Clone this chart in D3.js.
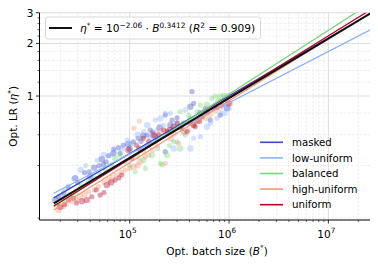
<!DOCTYPE html>
<html>
<head>
<meta charset="utf-8">
<script src="https://cdn.jsdelivr.net/npm/d3@7"></script>
<style>
  body { margin: 0; background: #fff; }
  text { font-family: "DejaVu Sans", sans-serif; }
</style>
</head>
<body>
<script>
// size of the page and plot area
var W = 378, H = 266;
var L = 39.5, R = 370, T = 12.7, B = 220;

// series names and colours (coolwarm-ish + green)
var seriesNames = ["masked", "low-uniform", "balanced", "high-uniform", "uniform"];
var seriesColors = ["#3b4cc0", "#8db0fe", "#7ad47a", "#f4987a", "#b40426"];

// fitted power laws per series, log10(eta) = a + b*log10(B)
var fitIntercepts = [-1.985, -1.800, -2.183, -2.154, -2.123];
var fitSlopes = [0.331, 0.2935, 0.3656, 0.3544, 0.3525];
var globalFit = [-2.06, 0.3412];
var fitRange = [1.72e4, 4e7];

// scatter points (batch size, lr)
var maskedB = [1.78e4, 1.92e4, 2.16e4, 2.83e4, 3.51e4, 3.91e4, 4.39e4, 4.92e4, 5.44e4, 5.23e4, 6.11e4, 6.90e4, 6.85e4, 7.69e4, 8.64e4, 9.70e4, 1.09e5, 1.22e5, 1.37e5, 1.50e5, 1.61e5, 1.81e5, 2.28e5, 2.28e5, 2.57e5, 2.67e5, 3.23e5, 4.08e5, 4.24e5, 4.40e5, 5.14e5, 6.47e5, 8.16e5, 9.52e5,
	2.4e4, 3.0e4, 4.0e4, 5.8e4, 8.0e4, 1.0e5, 1.3e5, 1.7e5, 2.0e5, 3.0e5, 3.5e5, 5.8e5, 7.2e5];
var maskedLR = [0.254, 0.265, 0.277, 0.338, 0.364, 0.368, 0.389, 0.399, 0.406, 0.434, 0.455, 0.497, 0.470, 0.506, 0.524, 0.531, 0.547, 0.573, 0.593, 0.598, 0.639, 0.585, 0.778, 0.480, 0.682, 0.729, 0.667, 0.869, 1.06, 0.908, 0.796, 0.729, 0.778, 0.851,
	0.30, 0.32, 0.345, 0.42, 0.47, 0.50, 0.55, 0.62, 0.66, 0.75, 0.70, 0.84, 0.88];

var lowB = [2.01e4, 2.42e4, 2.74e4, 3.20e4, 4.70e4, 6.40e4, 8.39e4, 1.06e5, 1.38e5, 1.50e5, 1.81e5, 1.88e5, 2.04e5, 2.28e5, 2.57e5, 2.77e5, 3.63e5, 3.63e5, 4.08e5, 4.40e5, 5.14e5, 6.00e5, 7.55e5, 8.16e5, 9.89e5,
	2.2e4, 3.6e4, 5.5e4, 7.0e4, 9.5e4, 1.2e5, 1.6e5, 2.2e5, 3.0e5, 4.8e5, 6.5e5, 9.0e5];
var lowLR = [0.264, 0.305, 0.338, 0.377, 0.430, 0.459, 0.501, 0.536, 0.625, 0.682, 0.729, 0.639, 0.745, 0.796, 0.796, 0.501, 0.832, 0.598, 0.501, 0.573, 0.585, 0.667, 0.745, 0.796, 0.851,
	0.285, 0.40, 0.46, 0.48, 0.56, 0.60, 0.58, 0.68, 0.70, 0.72, 0.70, 0.80];

var balB = [1.85e4, 2.16e4, 2.83e4, 3.29e4, 4.52e4, 5.70e4, 7.13e4, 8.01e4, 1.13e5, 1.37e5, 1.38e5, 1.44e5, 1.68e5, 2.04e5, 2.12e5, 2.38e5, 2.77e5, 2.99e5, 3.23e5, 3.23e5, 3.92e5, 4.08e5, 4.75e5, 5.14e5, 6.00e5, 6.73e5, 7.26e5, 8.16e5, 8.81e5, 9.52e5,
	2.5e4, 3.8e4, 5.0e4, 6.5e4, 9.0e4, 1.0e5, 1.2e5, 1.9e5, 2.5e5, 3.5e5, 4.4e5, 5.6e5, 7.8e5, 9.0e5];
var balLR = [0.238, 0.254, 0.277, 0.303, 0.339, 0.377, 0.440, 0.459, 0.368, 0.430, 0.480, 0.385, 0.459, 0.412, 0.403, 0.459, 0.547, 0.547, 0.501, 0.813, 0.778, 0.745, 0.813, 0.888, 0.888, 0.970, 1.0, 0.991, 1.01, 1.01,
	0.27, 0.32, 0.36, 0.40, 0.42, 0.40, 0.45, 0.50, 0.52, 0.62, 0.70, 0.80, 0.93, 0.95];

var highB = [1.92e4, 2.16e4, 2.61e4, 3.17e4, 3.85e4, 4.84e4, 6.11e4, 7.40e4, 8.99e4, 1.09e5, 1.10e5, 1.25e5, 1.27e5, 1.43e5, 1.69e5, 2.04e5, 2.28e5, 2.38e5, 2.77e5, 3.11e5, 3.89e5, 4.90e5, 6.47e5, 8.16e5, 1.03e6,
	2.3e4, 2.9e4, 3.5e4, 4.4e4, 5.5e4, 6.7e4, 8.2e4, 1.0e5, 1.2e5, 1.55e5, 1.9e5, 2.6e5, 3.5e5, 4.4e5, 5.8e5, 7.3e5];
var highLR = [0.222, 0.232, 0.248, 0.265, 0.283, 0.303, 0.330, 0.353, 0.377, 0.394, 0.653, 0.719, 0.421, 0.449, 0.491, 0.625, 0.412, 0.639, 0.611, 0.536, 0.639, 0.729, 0.778, 0.854, 0.908,
	0.24, 0.255, 0.275, 0.29, 0.32, 0.34, 0.365, 0.385, 0.40, 0.46, 0.52, 0.57, 0.62, 0.68, 0.75, 0.82];

var uniB = [2.00e4, 2.42e4, 2.91e4, 3.70e4, 4.15e4, 5.04e4, 5.88e4, 7.13e4, 8.32e4, 9.70e4, 1.17e5, 1.37e5, 1.74e5, 2.20e5, 2.38e5, 2.77e5, 3.36e5, 3.78e5, 4.40e5, 4.57e5, 5.34e5, 6.00e5, 6.73e5, 8.49e5, 9.89e5,
	2.2e4, 2.7e4, 3.3e4, 4.6e4, 5.5e4, 6.5e4, 7.8e4, 1.05e5, 1.25e5, 1.55e5, 1.95e5, 2.55e5, 3.0e5, 4.0e5, 5.0e5, 7.5e5];
var uniLR = [0.232, 0.254, 0.244, 0.254, 0.265, 0.271, 0.309, 0.330, 0.353, 0.491, 0.524, 0.573, 0.598, 0.639, 0.625, 0.667, 0.653, 0.625, 0.682, 0.667, 0.761, 0.813, 0.851, 0.888, 0.908,
	0.24, 0.26, 0.25, 0.29, 0.28, 0.32, 0.34, 0.44, 0.50, 0.55, 0.60, 0.64, 0.70, 0.70, 0.72, 0.86];

var pointsB = [maskedB, lowB, balB, highB, uniB];
var pointsLR = [maskedLR, lowLR, balLR, highLR, uniLR];

// ticks
var xMajor = [1e5, 1e6, 1e7];
var xExp = ["5", "6", "7"];
var yMajor = [1, 2, 3];
var yMinor = [0.2, 0.4, 0.6, 0.8, 1.2, 1.4, 1.6, 1.8, 2.2, 2.4, 2.6, 2.8];

var x = d3.scaleLog().domain([12360, 2.624e7]).range([L, R]);
var y = d3.scaleLog().domain([0.195, 3]).range([B, T]);

var xMinor = [];
[1e4, 1e5, 1e6, 1e7].forEach(function(d){
	for (var k = 2; k < 10; k++) if (d*k > 12360 && d*k < 2.624e7) xMinor.push(d*k);
});

var svg = d3.select("body").append("svg")
	.attr("width", W)
	.attr("height", H);

svg.append("defs").append("clipPath").attr("id", "clip")
	.append("rect").attr("x", L).attr("y", T).attr("width", R - L).attr("height", B - T);

//grid
var grid = svg.append("g");
grid.selectAll(".gxm").data(xMinor).enter().append("line")
	.attr("x1", function(d){return x(d)}).attr("x2", function(d){return x(d)})
	.attr("y1", T).attr("y2", B)
	.style("stroke", "#e6e6e6").style("stroke-width", 0.7).style("stroke-dasharray", "2.5,1.5");
grid.selectAll(".gym").data(yMinor.filter(function(d){return d > 0.195})).enter().append("line")
	.attr("y1", function(d){return y(d)}).attr("y2", function(d){return y(d)})
	.attr("x1", L).attr("x2", R)
	.style("stroke", "#e6e6e6").style("stroke-width", 0.7).style("stroke-dasharray", "2.5,1.5");
grid.selectAll(".gx").data(xMajor).enter().append("line")
	.attr("x1", function(d){return x(d)}).attr("x2", function(d){return x(d)})
	.attr("y1", T).attr("y2", B)
	.style("stroke", "#dedede").style("stroke-width", 1);
grid.selectAll(".gy").data(yMajor).enter().append("line")
	.attr("y1", function(d){return y(d)}).attr("y2", function(d){return y(d)})
	.attr("x1", L).attr("x2", R)
	.style("stroke", "#dedede").style("stroke-width", 1);

//scatter
var plot = svg.append("g").attr("clip-path", "url(#clip)");
seriesNames.forEach(function(name, i){
	plot.append("g").selectAll("circle")
		.data(d3.range(pointsB[i].length))
		.enter().append("circle")
		.attr("cx", function(j){return x(pointsB[i][j])})
		.attr("cy", function(j){return y(pointsLR[i][j])})
		.attr("r", function(j){return j % 3 == 0 ? 3.2 : 2.6})
		.style("fill", seriesColors[i])
		.style("fill-opacity", 0.38);
});

//fit lines
var line = d3.line().x(function(d){return x(d[0])}).y(function(d){return y(d[1])});
function fitPts(a, b){
	return fitRange.map(function(v){return [v, Math.pow(10, a + b*Math.log10(v))]});
}
seriesNames.forEach(function(name, i){
	plot.append("path")
		.attr("d", line(fitPts(fitIntercepts[i], fitSlopes[i])))
		.style("fill", "none").style("stroke", seriesColors[i]).style("stroke-width", 1.3);
});
plot.append("path")
	.attr("d", line(fitPts(globalFit[0], globalFit[1])))
	.style("fill", "none").style("stroke", "#111").style("stroke-width", 2);

//axes
var ax = svg.append("g");
ax.append("line").attr("x1", L).attr("x2", L).attr("y1", T).attr("y2", B).style("stroke", "#000").style("stroke-width", 1);
ax.append("line").attr("x1", L).attr("x2", R).attr("y1", B).attr("y2", B).style("stroke", "#000").style("stroke-width", 1);

ax.selectAll(".xt").data(xMinor).enter().append("line")
	.attr("x1", function(d){return x(d)}).attr("x2", function(d){return x(d)})
	.attr("y1", B).attr("y2", B + 2).style("stroke", "#000").style("stroke-width", 0.6);
ax.selectAll(".xT").data(xMajor).enter().append("line")
	.attr("x1", function(d){return x(d)}).attr("x2", function(d){return x(d)})
	.attr("y1", B).attr("y2", B + 3.5).style("stroke", "#000").style("stroke-width", 0.8);
ax.selectAll(".yt").data(yMinor).enter().append("line")
	.attr("y1", function(d){return y(d)}).attr("y2", function(d){return y(d)})
	.attr("x1", L).attr("x2", L - 2).style("stroke", "#000").style("stroke-width", 0.6);
ax.selectAll(".yT").data(yMajor).enter().append("line")
	.attr("y1", function(d){return y(d)}).attr("y2", function(d){return y(d)})
	.attr("x1", L).attr("x2", L - 3.5).style("stroke", "#000").style("stroke-width", 0.8);

//tick labels
var xl = ax.selectAll(".xl").data(xMajor).enter().append("text")
	.attr("x", function(d){return x(d) - 2})
	.attr("y", 237.5)
	.attr("text-anchor", "middle")
	.attr("font-size", "10.5px");
xl.append("tspan").text("10");
xl.append("tspan").text(function(d, i){return xExp[i]}).attr("dy", "-4.5").attr("font-size", "7.3px");

ax.selectAll(".yl").data(yMajor).enter().append("text")
	.attr("x", L - 6)
	.attr("y", function(d){return y(d) + 3.8})
	.attr("text-anchor", "end")
	.attr("font-size", "10.5px")
	.text(function(d){return d});

//axis titles
var xt = svg.append("text").attr("x", 217).attr("y", 254.5).attr("text-anchor", "middle").attr("font-size", "10.5px");
xt.append("tspan").text("Opt. batch size (");
xt.append("tspan").text("B").attr("font-style", "italic");
xt.append("tspan").text("*").attr("dy", -4.5).attr("font-size", "7.3px");
xt.append("tspan").text(")").attr("dy", 4.5);

var yt = svg.append("text").attr("transform", "translate(17," + ((T + B)/2) + ") rotate(-90)")
	.attr("text-anchor", "middle").attr("font-size", "10.5px");
yt.append("tspan").text("Opt. LR (");
yt.append("tspan").text("η").attr("font-style", "italic");
yt.append("tspan").text("*").attr("dy", -4.5).attr("font-size", "7.3px");
yt.append("tspan").text(")").attr("dy", 4.5);

//top legend
var lg = svg.append("g");
lg.append("rect").attr("x", 45.5).attr("y", 17).attr("width", 215).attr("height", 22).attr("rx", 2.5)
	.style("fill", "#fff").style("fill-opacity", 0.85).style("stroke", "#d0d0d0").style("stroke-width", 0.8);
lg.append("line").attr("x1", 49).attr("x2", 72).attr("y1", 28).attr("y2", 28).style("stroke", "#111").style("stroke-width", 2);
var lt = lg.append("text").attr("x", 80).attr("y", 32).attr("font-size", "10.6px");
lt.append("tspan").text("η").attr("font-style", "italic");
lt.append("tspan").text("*").attr("dy", -4.5).attr("font-size", "7.4px");
lt.append("tspan").text(" = 10").attr("dy", 4.5);
lt.append("tspan").text("−2.06").attr("dy", -4.5).attr("font-size", "7.4px");
lt.append("tspan").text(" · ").attr("dy", 4.5);
lt.append("tspan").text("B").attr("font-style", "italic");
lt.append("tspan").text("0.3412").attr("dy", -4.5).attr("font-size", "7.4px");
lt.append("tspan").text(" (").attr("dy", 4.5);
lt.append("tspan").text("R").attr("font-style", "italic");
lt.append("tspan").text("2").attr("dy", -4.5).attr("font-size", "7.4px");
lt.append("tspan").text(" = 0.909)").attr("dy", 4.5);

//series legend
var sl = svg.append("g").selectAll("g").data(seriesNames).enter().append("g")
	.attr("transform", function(d, i){return "translate(260," + (142.3 + i*15.6) + ")"});
sl.append("line").attr("x1", 0).attr("x2", 23).attr("y1", 0).attr("y2", 0)
	.style("stroke", function(d, i){return seriesColors[i]}).style("stroke-width", 1.6);
sl.append("text").attr("x", 32).attr("y", 3.6).attr("font-size", "10.2px").text(function(d){return d});
</script>
</body>
</html>
